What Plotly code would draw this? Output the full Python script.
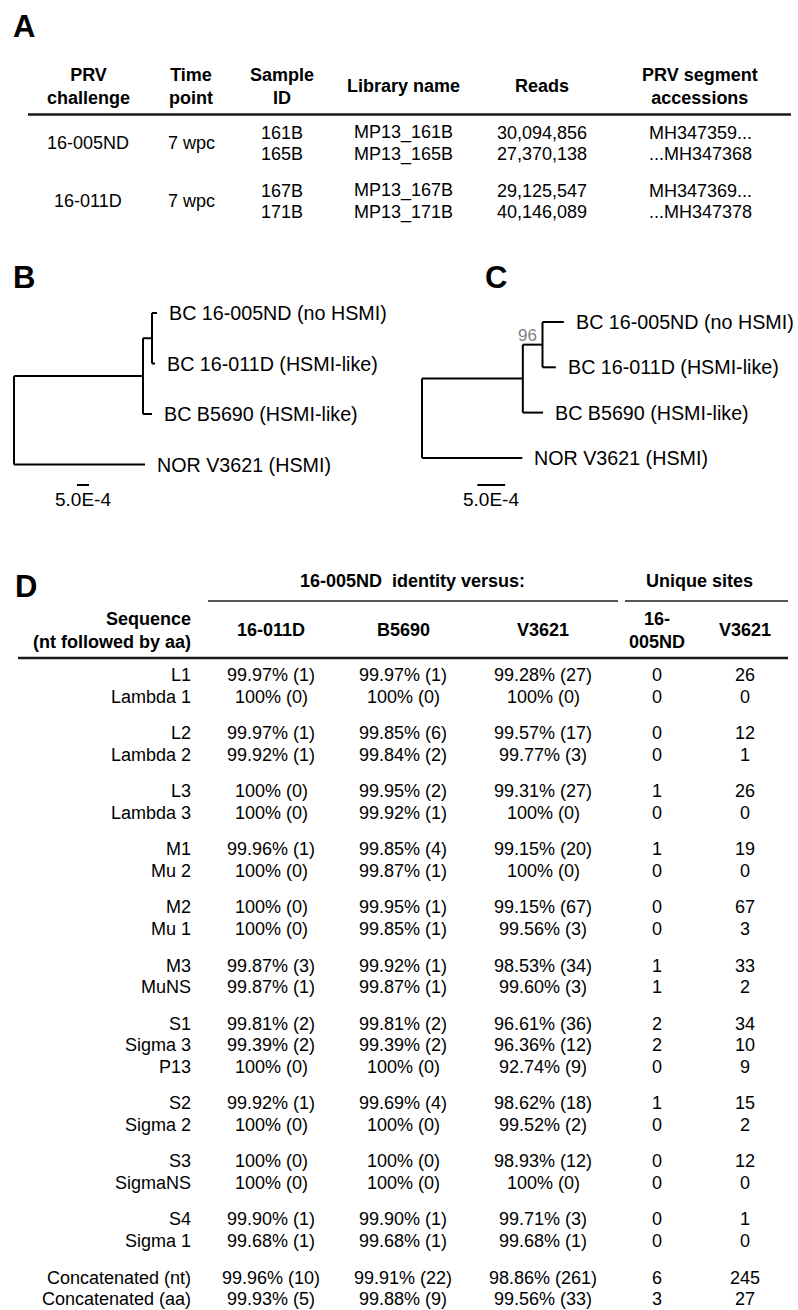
import plotly.graph_objects as go

W, H = 798, 1310

# ---------------- Panel A data ----------------
a_headers = ["PRV<br>challenge", "Time<br>point", "Sample<br>ID", "Library name", "Reads", "PRV segment<br>accessions"]
a_challenge = ["16-005ND", "16-011D"]
a_timepoint = ["7 wpc", "7 wpc"]
a_sample_id = ["161B", "165B", "167B", "171B"]
a_library = ["MP13_161B", "MP13_165B", "MP13_167B", "MP13_171B"]
a_reads = [30094856, 27370138, 29125547, 40146089]
a_accessions = ["MH347359...", "...MH347368", "MH347369...", "...MH347378"]
a_row_group = [0, 0, 1, 1]

# ---------------- Trees (B: nt, C: aa) ----------------
tip_names = {"t005": "BC 16-005ND (no HSMI)", "t011": "BC 16-011D (HSMI-like)",
             "b5690": "BC B5690 (HSMI-like)", "nor": "NOR V3621 (HSMI)"}
topology = ("root", [("inner", [("sub", ["t005", "t011"]), "b5690"]), "nor"])
tree_b_lengths = {"inner": 0.005375, "nor": 0.00546, "sub": 0.000375, "b5690": 0.000375,
                  "t005": 0.00021, "t011": 0.000125}
tree_c_lengths = {"inner": 0.00182, "nor": 0.00181, "sub": 0.000355, "b5690": 0.000366,
                  "t005": 0.000385, "t011": 0.00024}
tree_c_bootstrap = {"sub": 96}
scale_bar_len = 5.0e-4
scale_bar_label = "5.0E-4"

# ---------------- Panel D data ----------------
d_sequence = ["L1", "Lambda 1", "L2", "Lambda 2", "L3", "Lambda 3", "M1", "Mu 2", "M2", "Mu 1",
              "M3", "MuNS", "S1", "Sigma 3", "P13", "S2", "Sigma 2", "S3", "SigmaNS", "S4",
              "Sigma 1", "Concatenated (nt)", "Concatenated (aa)"]
d_group = [0, 0, 1, 1, 2, 2, 3, 3, 4, 4, 5, 5, 6, 6, 6, 7, 7, 8, 8, 9, 9, 10, 10]
id_16011D = [99.97, 100, 99.97, 99.92, 100, 100, 99.96, 100, 100, 100, 99.87, 99.87, 99.81,
             99.39, 100, 99.92, 100, 100, 100, 99.90, 99.68, 99.96, 99.93]
diff_16011D = [1, 0, 1, 1, 0, 0, 1, 0, 0, 0, 3, 1, 2, 2, 0, 1, 0, 0, 0, 1, 1, 10, 5]
id_B5690 = [99.97, 100, 99.85, 99.84, 99.95, 99.92, 99.85, 99.87, 99.95, 99.85, 99.92, 99.87,
            99.81, 99.39, 100, 99.69, 100, 100, 100, 99.90, 99.68, 99.91, 99.88]
diff_B5690 = [1, 0, 6, 2, 2, 1, 4, 1, 1, 1, 1, 1, 2, 2, 0, 4, 0, 0, 0, 1, 1, 22, 9]
id_V3621 = [99.28, 100, 99.57, 99.77, 99.31, 100, 99.15, 100, 99.15, 99.56, 98.53, 99.60, 96.61,
            96.36, 92.74, 98.62, 99.52, 98.93, 100, 99.71, 99.68, 98.86, 99.56]
diff_V3621 = [27, 0, 17, 3, 27, 0, 20, 0, 67, 3, 34, 3, 36, 12, 9, 18, 2, 12, 0, 3, 1, 261, 33]
uniq_16005ND = [0, 0, 0, 0, 1, 0, 1, 0, 0, 0, 1, 1, 2, 2, 0, 1, 0, 0, 0, 0, 0, 6, 3]
uniq_V3621 = [26, 0, 12, 1, 26, 0, 19, 0, 67, 3, 33, 2, 34, 10, 9, 15, 2, 12, 0, 1, 0, 245, 27]
d_col_headers = ["16-011D", "B5690", "V3621", "16-<br>005ND", "V3621"]
d_group_headers = ["16-005ND&nbsp; identity versus:", "Unique sites"]

# ---------------- styling ----------------
FONT = "Arial, 'Liberation Sans', sans-serif"
FS = 18
LINE_H = 21.5
GROUP_GAP = 15.1

fig = go.Figure()
ann = []
shapes = []


def txt(x, y, s, size=FS, bold=False, anchor="center", color="black", xref="x", yref="y", xshift=0):
    ann.append(dict(x=x, y=y, xref=xref, yref=yref, text=(f"<b>{s}</b>" if bold else s),
                    showarrow=False, xanchor=anchor, yanchor="middle", xshift=xshift,
                    font=dict(family=FONT, size=size, color=color), align=anchor))


def hline(x0, x1, y, width=2.5, color="#1a1a1a", xref="x", yref="y"):
    shapes.append(dict(type="line", x0=x0, x1=x1, y0=y, y1=y, xref=xref, yref=yref,
                       line=dict(color=color, width=width)))


# Panel labels
txt(24, 26, "A", size=31, bold=True)
txt(24, 277, "B", size=31, bold=True)
txt(496, 277, "C", size=31, bold=True)
txt(26, 586, "D", size=31, bold=True)

# ---------------- Panel A ----------------
a_cols = [88, 191, 282, 403, 542, 700]
for cx, h in zip(a_cols, a_headers):
    txt(cx, 86, h, bold=True)
hline(28, 791, 114.5)
a_y = [132.5 + LINE_H * i + GROUP_GAP * g for i, g in enumerate(a_row_group)]
for i in range(len(a_sample_id)):
    y = a_y[i]
    txt(a_cols[2], y, a_sample_id[i])
    txt(a_cols[3], y, a_library[i])
    txt(a_cols[4], y, f"{a_reads[i]:,}")
    txt(a_cols[5], y, a_accessions[i])
for g in range(len(a_challenge)):
    ys = [a_y[i] for i in range(len(a_y)) if a_row_group[i] == g]
    ym = sum(ys) / len(ys)
    txt(a_cols[0], ym, a_challenge[g])
    txt(a_cols[1], ym, a_timepoint[g])


# ---------------- Trees ----------------
def layout_tree(node, lengths, x0, pos, tips):
    if isinstance(node, str):
        x = x0 + lengths[node]
        y = len(tips)
        tips.append(node)
        pos[node] = (x, y, x0)
        return y
    name, children = node
    x = x0 + lengths.get(name, 0.0)
    ys = [layout_tree(c, lengths, x, pos, tips) for c in children]
    y = sum(ys) / len(ys)
    pos[name] = (x, y, x0, min(ys), max(ys))
    return y


def draw_tree(lengths, xa, ya, bootstrap=None):
    pos = {}
    tips = []
    layout_tree(topology, lengths, 0.0, pos, tips)
    xs, ys = [], []
    for name, p in pos.items():
        if name != "root":
            xs += [p[2], p[0], None]
            ys += [p[1], p[1], None]
        if len(p) == 5:
            xs += [p[0], p[0], None]
            ys += [p[3], p[4], None]
    fig.add_trace(go.Scatter(x=xs, y=ys, mode="lines", line=dict(color="black", width=2),
                             xaxis=xa, yaxis=ya, hoverinfo="skip", showlegend=False))
    for t in tips:
        x, y, _ = pos[t]
        ann.append(dict(x=x, y=y, xref=xa, yref=ya, text=tip_names[t], showarrow=False,
                        xanchor="left", yanchor="middle", xshift=10,
                        font=dict(family=FONT, size=19.7, color="black")))
    if bootstrap:
        for n, v in bootstrap.items():
            x, y = pos[n][0], pos[n][1]
            ann.append(dict(x=x, y=y, xref=xa, yref=ya, text=str(v), showarrow=False,
                            xanchor="right", yanchor="bottom", xshift=-4, yshift=-2,
                            font=dict(family=FONT, size=17, color="#808080")))
    return pos


b_px_per_unit = 24000.0
b_root_px = 14
b_dom = (0, 400)
c_px_per_unit = 55400.0
c_root_px = 422
c_dom = (400, 798)
ydom_px = (290, 520)
b_tip_px, b_tip_step = 313, 50.5
c_tip_px, c_tip_step = 322, 45.3

pos_b = draw_tree(tree_b_lengths, "x2", "y2")
pos_c = draw_tree(tree_c_lengths, "x3", "y3", tree_c_bootstrap)


def xaxis_for(dom, root_px, ppu, ya):
    return dict(domain=[dom[0] / W, dom[1] / W],
                range=[(dom[0] - root_px) / ppu, (dom[1] - root_px) / ppu],
                visible=False, fixedrange=True, anchor=ya)


def yaxis_for(tip_px, step, xa):
    return dict(domain=[1 - ydom_px[1] / H, 1 - ydom_px[0] / H],
                range=[(ydom_px[1] - tip_px) / step, (ydom_px[0] - tip_px) / step],
                visible=False, fixedrange=True, anchor=xa)


# scale bars
for xa, x0 in (("x2", 0.002625), ("x3", 0.001)):
    shapes.append(dict(type="line", xref=xa, yref="paper", x0=x0, x1=x0 + scale_bar_len,
                       y0=1 - 485 / H, y1=1 - 485 / H, line=dict(color="black", width=2)))
    ann.append(dict(x=x0 + scale_bar_len / 2, y=1 - 500 / H, xref=xa, yref="paper",
                    text=scale_bar_label, showarrow=False, xanchor="center", yanchor="middle",
                    font=dict(family=FONT, size=19, color="black")))

# ---------------- Panel D ----------------
d_seq_right = 193
d_cols = [271, 403, 543, 657, 745]
txt(412, 581, d_group_headers[0], bold=True)
txt(699, 581, d_group_headers[1], bold=True)
hline(208, 618, 601, width=2, color="#555555")
hline(625, 788, 601, width=2, color="#555555")
txt(d_seq_right, 630, "Sequence<br>(nt followed by aa)", bold=True, anchor="right")
for cx, h in zip(d_cols, d_col_headers):
    txt(cx, 630, h, bold=True)
hline(18, 788, 658)


def pct(v):
    return "100%" if v == 100 else f"{v:.2f}%"


for i, s in enumerate(d_sequence):
    y = 675 + LINE_H * i + GROUP_GAP * d_group[i]
    txt(d_seq_right, y, s, anchor="right")
    txt(d_cols[0], y, f"{pct(id_16011D[i])} ({diff_16011D[i]})")
    txt(d_cols[1], y, f"{pct(id_B5690[i])} ({diff_B5690[i]})")
    txt(d_cols[2], y, f"{pct(id_V3621[i])} ({diff_V3621[i]})")
    txt(d_cols[3], y, str(uniq_16005ND[i]))
    txt(d_cols[4], y, str(uniq_V3621[i]))

fig.update_layout(
    width=W, height=H, margin=dict(l=0, r=0, t=0, b=0),
    paper_bgcolor="white", plot_bgcolor="rgba(0,0,0,0)", showlegend=False,
    xaxis=dict(domain=[0, 1], range=[0, W], visible=False, fixedrange=True),
    yaxis=dict(domain=[0, 1], range=[H, 0], visible=False, fixedrange=True),
    xaxis2=xaxis_for(b_dom, b_root_px, b_px_per_unit, "y2"),
    yaxis2=yaxis_for(b_tip_px, b_tip_step, "x2"),
    xaxis3=xaxis_for(c_dom, c_root_px, c_px_per_unit, "y3"),
    yaxis3=yaxis_for(c_tip_px, c_tip_step, "x3"),
    annotations=ann, shapes=shapes,
)

fig.write_html("out.html")
